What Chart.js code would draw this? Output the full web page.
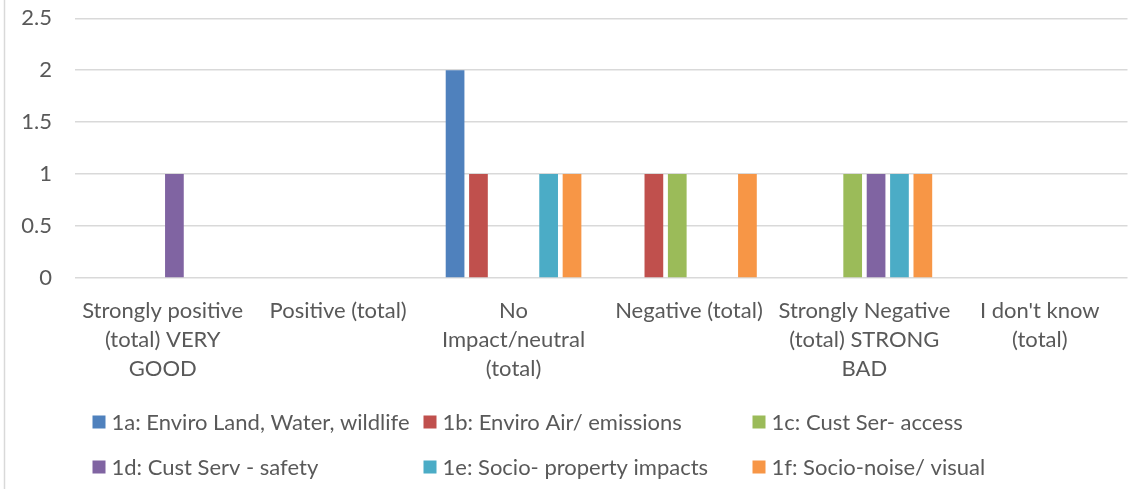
<!DOCTYPE html>
<html><head><meta charset="utf-8">
<script src="https://cdn.jsdelivr.net/npm/chart.js@4.4.1/dist/chart.umd.min.js"></script>
<style>html,body{margin:0;padding:0;background:#fff}#wrap{position:relative;width:1143px;height:498px}</style>
</head><body><div id="wrap"><canvas id="c" width="1143" height="498"></canvas></div>
<script>
const categories = [
  ["Strongly positive", "(total) VERY", "GOOD"],
  ["Positive (total)"],
  ["No", "Impact/neutral", "(total)"],
  ["Negative (total)"],
  ["Strongly Negative", "(total) STRONG", "BAD"],
  ["I don't know", "(total)"]
];
const seriesNames = [
  "1a: Enviro Land, Water, wildlife",
  "1b: Enviro Air/ emissions",
  "1c: Cust Ser- access",
  "1d: Cust Serv - safety",
  "1e: Socio- property impacts",
  "1f: Socio-noise/ visual"
];
const s1a = [0, 0, 2, 0, 0, 0];
const s1b = [0, 0, 1, 1, 0, 0];
const s1c = [0, 0, 0, 1, 1, 0];
const s1d = [1, 0, 0, 0, 1, 0];
const s1e = [0, 0, 1, 0, 1, 0];
const s1f = [0, 0, 1, 1, 1, 0];
const yTicks = [0, 0.5, 1, 1.5, 2, 2.5];

const colors = ["#4F81BD", "#C0504D", "#9BBB59", "#8064A2", "#4BACC6", "#F79646"];
const values = [s1a, s1b, s1c, s1d, s1e, s1f];
const FONT = "Lato";
const TXT = "#595959";

const legendPlugin = {
  id: "gridLegend",
  afterDraw(chart) {
    const ctx = chart.ctx;
    ctx.save();
    ctx.strokeStyle = "#d9d9d9";
    ctx.lineWidth = 1.5;
    ctx.beginPath(); ctx.moveTo(4.5, 0); ctx.lineTo(4.5, 489); ctx.stroke();
    const colX = [92.5, 423.5, 752.5];
    const rowY = [422, 467];
    ctx.font = "22px " + FONT;
    ctx.textBaseline = "middle";
    ctx.textAlign = "left";
    chart.data.datasets.forEach((ds, i) => {
      const x = colX[i % 3], y = rowY[Math.floor(i / 3)];
      ctx.fillStyle = ds.backgroundColor;
      ctx.fillRect(x, y - 6.5, 13, 13);
      ctx.fillStyle = TXT;
      ctx.fillText(ds.label, x + 19, y + 1);
    });
    ctx.restore();
  }
};

new Chart(document.getElementById("c"), {
  type: "bar",
  data: {
    labels: categories,
    datasets: seriesNames.map((n, i) => ({
      label: n,
      data: values[i],
      backgroundColor: colors[i],
      borderWidth: 0,
      categoryPercentage: 0.8,
      barPercentage: 0.8
    }))
  },
  options: {
    responsive: false,
    animation: false,
    devicePixelRatio: 1,
    layout: { padding: { top: 18.3, right: 15.5, bottom: 0, left: 0 } },
    plugins: { legend: { display: false }, tooltip: { enabled: false } },
    scales: {
      x: {
        grid: { display: false, drawTicks: false },
        border: { display: false },
        ticks: {
          color: TXT, padding: 18, maxRotation: 0, autoSkip: false,
          font: { family: FONT, size: 22, lineHeight: "29px" }
        },
        afterFit(s) { s.height = 220; s.paddingLeft = 0; s.paddingRight = 0; }
      },
      y: {
        min: 0, max: 2.5,
        afterBuildTicks(s) { s.ticks = yTicks.map(v => ({ value: v })); },
        grid: { color: "#d9d9d9", lineWidth: 1.5, drawTicks: false },
        border: { display: false },
        ticks: {
          color: TXT, padding: 23,
          font: { family: FONT, size: 22 },
          callback: (v) => String(v)
        },
        afterFit(s) { s.width = 75; s.paddingTop = 0; s.paddingBottom = 0; }
      }
    }
  },
  plugins: [legendPlugin]
});
</script></body></html>
